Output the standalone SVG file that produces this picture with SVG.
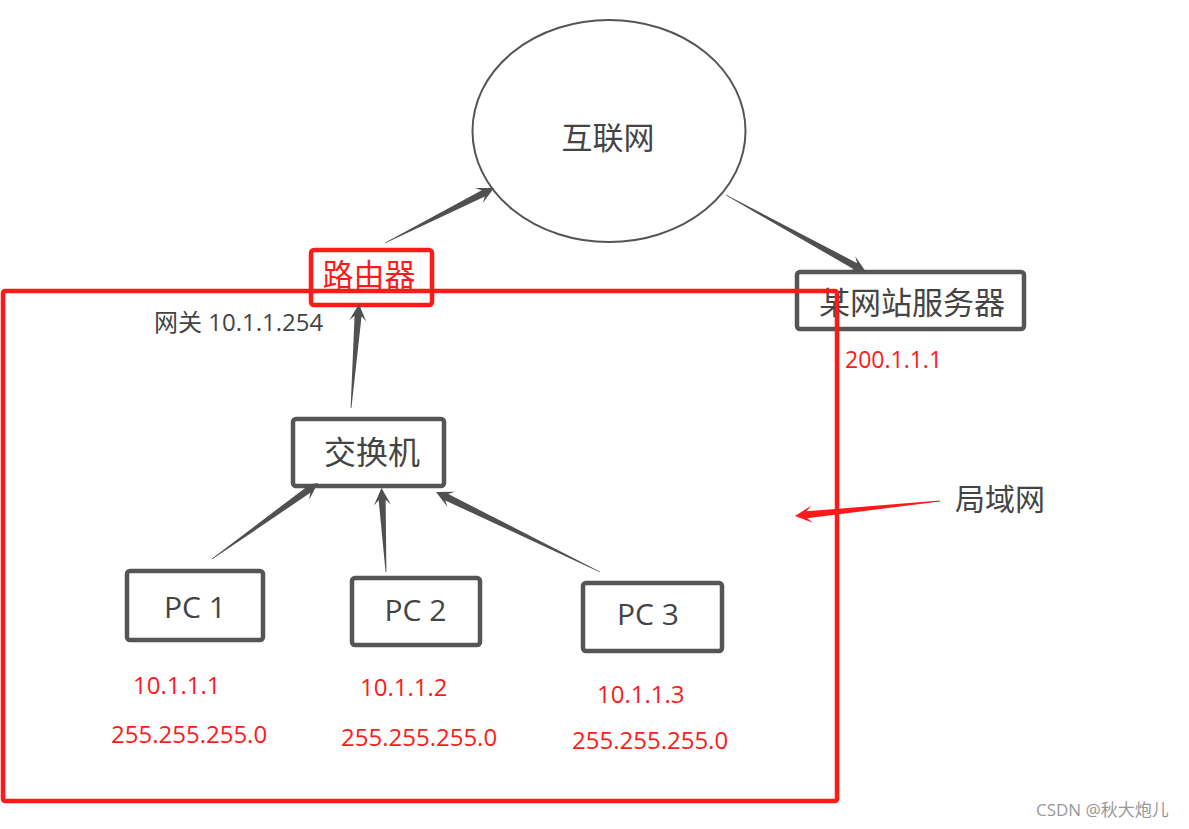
<svg xmlns="http://www.w3.org/2000/svg" width="1189" height="829" viewBox="0 0 1189 829">
<style>
text{font-family:"Open Sans","Noto Sans CJK SC",sans-serif}
.box{fill:#fff;stroke:#555;stroke-width:4.5}
.lbl{fill:#444;text-anchor:middle}
.red{fill:#ff1a1a}
.arr{fill:#505050}
.arrR{fill:#ff1a1a}
</style>
<rect width="1189" height="829" fill="#fff"/>
<g id="internet">
<ellipse cx="609" cy="131" rx="136.5" ry="111" fill="#fff" stroke="#555" stroke-width="2"/>
<text class="lbl" x="608" y="149" font-size="31">互联网</text>
</g>
<g id="router">
<rect x="311" y="250" width="121" height="55" rx="3" fill="#fff" stroke="#ff1a1a" stroke-width="4.5"/>
<text x="369" y="286" font-size="31" text-anchor="middle" class="red">路由器</text>
</g>
<g id="server">
<rect class="box" x="797" y="272" width="227" height="57" rx="3"/>
<text class="lbl" x="912" y="314" font-size="31">某网站服务器</text>
<text class="red" x="845" y="368" font-size="23">200.1.1.1</text>
</g>
<g id="gateway">
<text x="154" y="331" font-size="24" fill="#444">网关 10.1.1.254</text>
</g>
<g id="switch">
<rect class="box" x="293" y="419" width="151" height="67" rx="3"/>
<text class="lbl" x="372" y="464" font-size="32">交换机</text>
</g>
<g id="pc1">
<rect class="box" x="127" y="571" width="136" height="69" rx="3"/>
<text class="lbl" x="195" y="618" font-size="30">PC 1</text>
<text class="red" x="133" y="694" font-size="24">10.1.1.1</text>
<text class="red" x="111" y="743" font-size="24">255.255.255.0</text>
</g>
<g id="pc2">
<rect class="box" x="352" y="578" width="128" height="67" rx="3"/>
<text class="lbl" x="415.5" y="621" font-size="30">PC 2</text>
<text class="red" x="360" y="696" font-size="24">10.1.1.2</text>
<text class="red" x="341" y="746" font-size="24">255.255.255.0</text>
</g>
<g id="pc3">
<rect class="box" x="583" y="583" width="139" height="68" rx="3"/>
<text class="lbl" x="648" y="625" font-size="30">PC 3</text>
<text class="red" x="597" y="703" font-size="24">10.1.1.3</text>
<text class="red" x="572" y="749" font-size="24">255.255.255.0</text>
</g>
<g id="lan-label">
<text x="955" y="510" font-size="30" fill="#444">局域网</text>
</g>
<g id="connectors">
<polygon class="arr" points="385.18,243.36 484.87,196.53 482.65,203.25 494,188 474.99,188.07 481.71,190.29 384.82,242.64"/>
<polygon class="arr" points="725.81,195.35 853.80,269.29 847.00,271.26 866,272 855.20,256.36 857.18,263.15 726.19,194.65"/>
<polygon class="arr" points="351.40,408.03 361.57,316.23 366.17,321.60 359,304 349.23,320.30 354.59,315.69 350.60,407.97"/>
<polygon class="arr" points="212.23,559.33 310.29,492.83 309.13,499.82 318,483 299.23,486.00 306.21,487.15 211.77,558.67"/>
<polygon class="arr" points="386.40,571.98 385.64,499.79 390.90,504.53 381.5,488 373.92,505.43 378.64,500.17 385.60,572.02"/>
<polygon class="arr" points="600.18,571.64 448.32,494.11 455.01,491.81 436,492 447.55,507.09 445.26,500.41 599.82,572.36"/>
<polygon class="arrR" points="939.96,500.60 806.58,511.29 811.04,505.80 795,516 812.78,522.70 807.30,518.25 940.04,501.40"/>
</g>
<g id="lan">
<rect x="3" y="291" width="834" height="510" rx="2" fill="none" stroke="#ff1a1a" stroke-width="4.5"/>
</g>
<g id="watermark">
<text x="1036" y="816" font-size="17" fill="#999">CSDN @秋大炮儿</text>
</g>
</svg>
